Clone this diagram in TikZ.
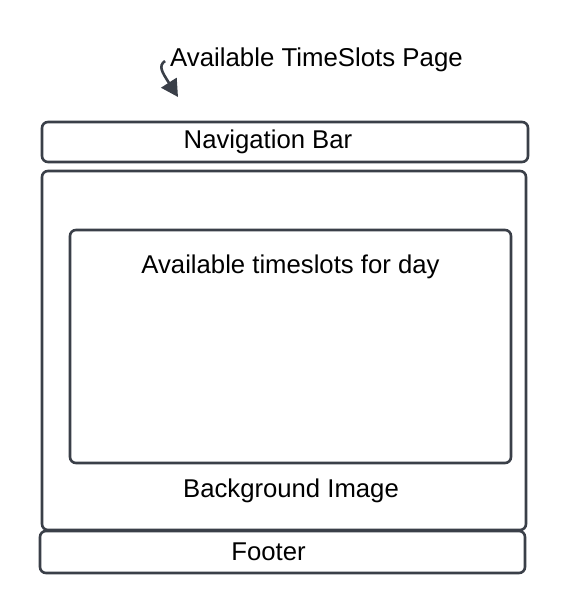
\documentclass[tikz,border=0pt]{standalone}
\usepackage{fontspec}
\setmainfont{Liberation Sans}
\usetikzlibrary{arrows.meta}
\definecolor{edge}{HTML}{3A3F48}
\begin{document}
\begin{tikzpicture}[x=1pt,y=-1pt,
  panel/.style={draw=edge,line width=2.6pt,rounded corners=6pt},
  lbl/.style={font=\fontsize{25.7}{28}\selectfont,text=black,inner sep=0pt}]
\useasboundingbox (0,0) rectangle (568,613);
% page title with pointer arrow
\node[lbl,font=\fontsize{25.8}{28}\selectfont,anchor=west] (title) at (170,60) {Available TimeSlots Page};
\coordinate (tail) at (165,61);
\coordinate (tip) at (178,97);
\draw[edge,line width=2.6pt,-{Triangle[length=17pt,width=18pt]}] (tail) .. controls (158,66) and (162,72) .. (tip);
% layout blocks
\draw[panel] (42,122) rectangle (528,162);
\node[lbl] (nav) at (268,142) {Navigation Bar};
\draw[panel] (42,171) rectangle (526,530);
\node[lbl] (bg) at (291,491) {Background Image};
\draw[panel] (70,230) rectangle (511,463);
\node[lbl] (slots) at (290.5,267) {Available timeslots for day};
\draw[panel] (40,531) rectangle (525,573);
\node[lbl] (foot) at (268.5,552) {Footer};
\end{tikzpicture}
\end{document}
